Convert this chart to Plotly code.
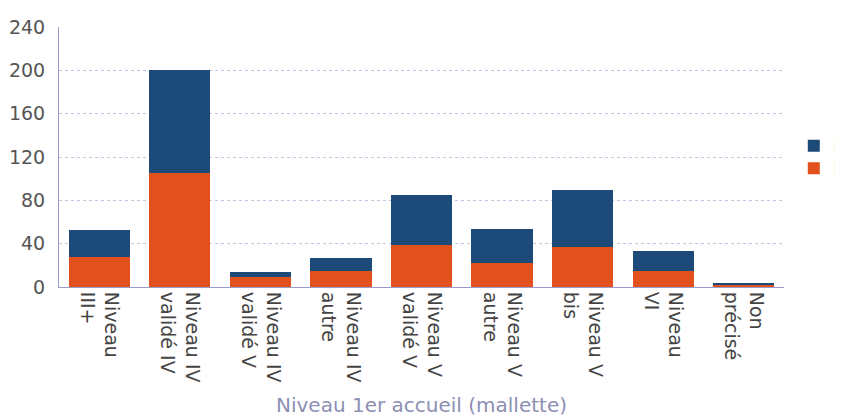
import plotly.graph_objects as go

categories = ["Niveau<br>III+", "Niveau IV<br>validé IV", "Niveau IV<br>validé V", "Niveau IV<br>autre",
              "Niveau V<br>validé V", "Niveau V<br>autre", "Niveau V<br>bis", "Niveau<br>VI", "Non<br>précisé"]
femmes = [28, 105, 9, 15, 39, 22, 37, 15, 2]
hommes = [25, 95, 5, 12, 46, 32, 53, 18, 1]
y_ticks = [0, 40, 80, 120, 160, 200, 240]

fig = go.Figure()
fig.add_trace(go.Bar(x=categories, y=femmes, name="Femmes",
                     marker=dict(color="#e2501d", line=dict(width=0))))
fig.add_trace(go.Bar(x=categories, y=hommes, name="Hommes",
                     marker=dict(color="#1d4b79", line=dict(width=0))))

fig.update_layout(
    width=843, height=416,
    barmode="stack", bargap=0.24,
    plot_bgcolor="white", paper_bgcolor="white",
    margin=dict(l=51, r=67, t=19, b=137, autoexpand=False),
    font=dict(family="DejaVu Sans", size=18, color="#555555"),
    legend=dict(x=1.0135, y=0.5, xanchor="left", yanchor="middle",
                traceorder="reversed", font=dict(size=15, color="#444444"),
                bgcolor="rgba(0,0,0,0)"),
    xaxis=dict(tickangle=90, showline=True, linecolor="#9a9ccc", linewidth=1,
               ticks="", tickfont=dict(size=19, color="#444444"),
               title=dict(text="Niveau 1er accueil (mallette)",
                          font=dict(size=20, color="#8c8fb4"), standoff=16)),
    yaxis=dict(range=[0, 240], tickvals=y_ticks, showline=True, linecolor="#9a9ccc",
               linewidth=1, showgrid=True, gridcolor="#c4c4e2", griddash="dot",
               gridwidth=1, zeroline=False, ticks="", ticklabelstandoff=9,
               tickfont=dict(size=19, color="#555555")),
)

fig.write_html("out.html")
